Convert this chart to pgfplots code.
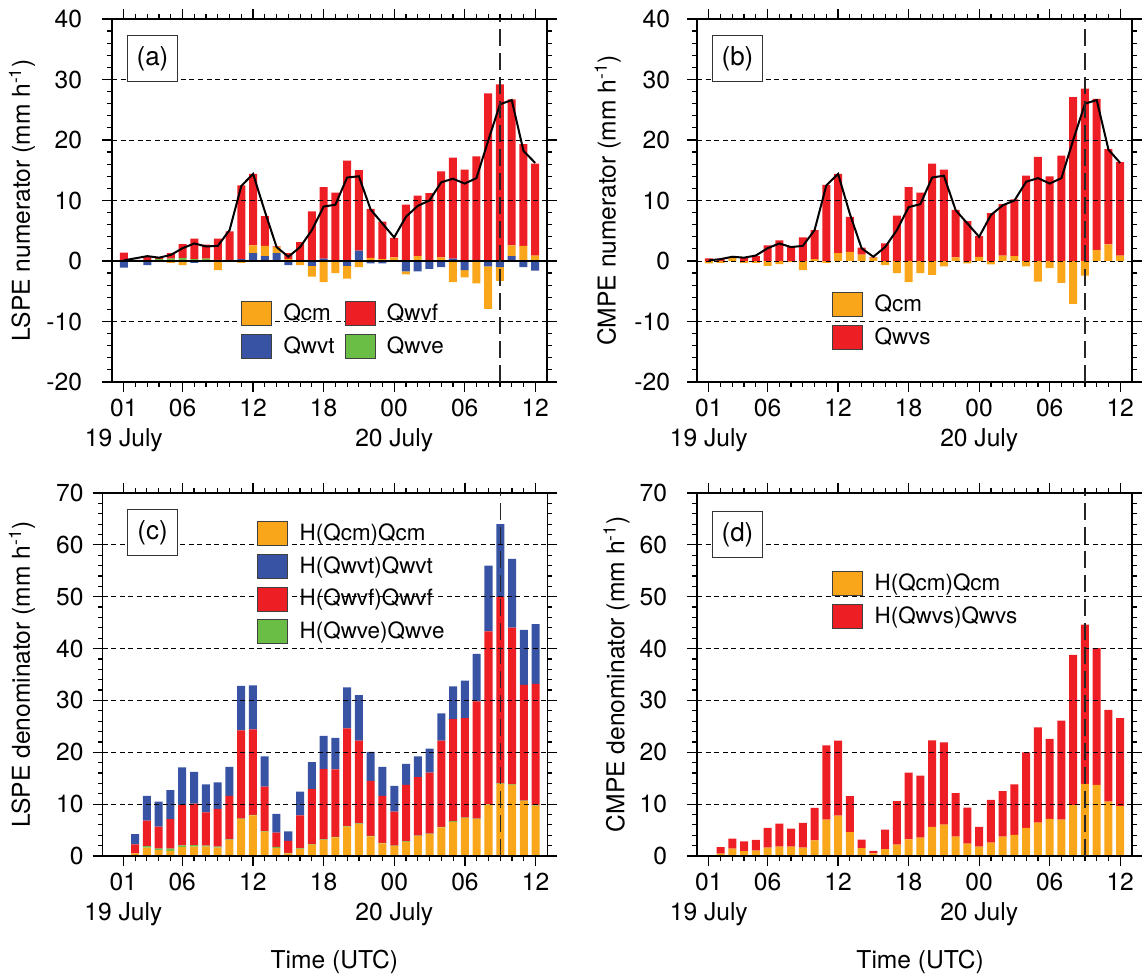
\documentclass[border=0pt]{standalone}
\usepackage{fontspec}
\setmainfont{TeX Gyre Heros}
\usepackage{pgfplots}
\usepackage{pgfplotstable}
\pgfplotsset{compat=1.18}

\definecolor{qorange}{RGB}{250,166,26}
\definecolor{qred}{RGB}{237,30,36}
\definecolor{qblue}{RGB}{57,83,164}
\definecolor{qgreen}{RGB}{106,189,69}

\newcommand{\mainfs}{\fontsize{12.3}{15}\selectfont}
\newcommand{\legfs}{\fontsize{11.2}{13}\selectfont}
\newcommand{\labfs}{\fontsize{13}{15}\selectfont}

% LSPE numerator: positive and negative parts kept apart
\pgfplotstableread{
h veP vtP cmP vfP vtN cmN tot
1 0 0 0 1.4 -1.1 0 0.1
2 0 0 0 0.2 0 0 0.45
3 0.1 0 0 0.7 -0.7 0 0.8
4 0.3 0 0 0.3 0 0 0.55
5 0.4 0 0 0.9 0 -0.3 1.0
6 0.5 0 0 2.3 0 -0.7 2.1
7 0.3 0 0 3.4 -0.3 0 2.9
8 0.4 0 0 2.3 0 0 2.4
9 0.2 0 0 3.5 0 -1.5 2.5
10 0.2 0 0 4.7 0 0 5.1
11 0 0.3 0 12.2 0 -0.3 12.4
12 0 1.3 1.3 11.8 0 0 14.4
13 0 0.8 1.7 4.9 0 0 8.2
14 0 1.3 1.0 0.1 0 0 2.3
15 0 0 0.3 1.0 -0.7 0 0.7
16 0 0 0 3.1 0 -0.7 2.3
17 0 0 0 8.2 -0.8 -1.8 5.1
18 0 0.4 0 11.8 0 -3.5 9.0
19 0 0 0 11.3 0 -2.0 9.3
20 0 0 0 16.6 -0.8 -2.1 13.8
21 0 1.7 0 13.3 0 -1.0 14.0
22 0 0 0.5 8.1 -0.4 0 8.5
23 0 0 0.3 6.2 -0.4 0 6.2
24 0 0 0.6 3.2 0 0 3.9
25 0 0 0 9.3 -1.7 -0.5 7.3
26 0 0 0.8 10.0 -1.7 0 9.1
27 0 0 0 11.2 -1.3 0 10.0
28 0 0 0.6 14.2 -1.0 0 13.0
29 0 0.4 0 16.7 0 -3.5 13.6
30 0 0 0 15.1 -1.5 -1.2 12.8
31 0 0 0 17.3 0 -3.7 13.7
32 0 0 0 27.7 -0.9 -7.0 19.9
33 0 0 0 29.2 -1.0 -2.3 25.9
34 0 0.8 1.8 24.1 0 0 26.6
35 0 0 2.5 16.8 -1.0 0 18.2
36 0 0 0.9 15.2 -1.6 0 16.2
}\tabA

% CMPE numerator
\pgfplotstableread{
h cmP vsP cmN tot
1 0 0.45 -0.4 0.1
2 0 0.4 -0.3 0.3
3 0.5 0.2 0 0.7
4 0 0.6 -0.3 0.55
5 0 0.8 -0.3 0.9
6 0 2.6 -0.8 2.1
7 0 3.4 -0.5 2.9
8 0 2.3 -0.2 2.3
9 0 3.9 -1.5 2.5
10 0.3 4.8 0 5.1
11 0 12.6 -0.3 12.5
12 1.3 13.1 0 14.4
13 1.5 5.8 0 7.8
14 1.05 1.15 0 2.1
15 0.55 0.1 0 0.7
16 0 2.9 -0.7 2.3
17 0 7.5 -2.0 5.1
18 0 12.2 -3.5 8.9
19 0 11.3 -2.0 9.4
20 0 16.1 -2.3 13.8
21 0 15.1 -0.9 14.1
22 0.6 7.85 0 8.4
23 0 6.6 -0.4 6.2
24 0.7 3.4 0 4.0
25 0 7.9 -0.55 7.6
26 0.9 8.5 0 9.2
27 0.8 9.4 0 10.0
28 0 14.1 -0.9 13.1
29 0 17.2 -3.4 13.7
30 0 14.0 -1.2 12.8
31 0 17.4 -3.6 13.7
32 0 27.1 -7.1 20.0
33 0 28.5 -2.4 26.0
34 1.8 25.0 0 26.6
35 2.75 15.75 0 18.4
36 0.9 15.45 0 16.2
}\tabB

% LSPE denominator
\pgfplotstableread{
h cm ve vf vt
1 0 0 0 0
2 0.5 0 1.75 1.95
3 1.6 0.3 4.9 4.8
4 1.15 0.25 4.25 4.85
5 1.0 0.4 5.7 5.6
6 1.7 0.35 7.8 7.25
7 1.8 0.3 8.0 6.1
8 1.8 0.2 6.4 5.4
9 1.6 0.2 7.3 5.1
10 3.1 0.1 8.4 5.6
11 7.1 0.1 17.0 8.6
12 7.85 0.1 16.45 8.5
13 4.7 0.1 8.6 5.8
14 1.55 0.2 2.75 3.6
15 0.5 0.1 2.3 1.85
16 1.35 0.1 6.4 4.55
17 2.2 0.1 10.6 5.2
18 3.1 0.1 13.55 6.4
19 3.6 0.1 13.0 6.1
20 5.65 0.1 18.85 7.9
21 6.2 0.1 15.95 8.75
22 3.8 0.1 10.6 5.6
23 2.45 0.1 9.05 5.6
24 1.9 0.1 6.55 4.95
25 2.7 0.1 10.9 4.05
26 3.85 0.1 11.25 4.0
27 4.2 0.1 11.8 4.6
28 5.5 0.1 16.65 5.25
29 6.6 0.1 19.7 6.3
30 7.3 0.1 19.2 7.2
31 7.1 0.1 22.6 9.2
32 9.9 0.1 33.3 12.7
33 13.9 0.1 35.9 14.1
34 13.7 0.1 30.25 13.25
35 10.6 0.1 22.3 10.6
36 9.7 0.1 23.4 11.5
}\tabC

% CMPE denominator
\pgfplotstableread{
h cm vs
1 0 0
2 0.45 1.25
3 1.4 1.95
4 0.95 1.85
5 1.05 2.05
6 1.6 3.8
7 1.8 4.45
8 1.8 3.5
9 1.6 4.8
10 3.0 6.3
11 7.0 14.35
12 7.8 14.45
13 4.6 6.95
14 1.5 1.65
15 0.5 0.5
16 1.3 3.8
17 2.2 8.4
18 3.2 12.9
19 3.55 11.95
20 5.6 16.7
21 6.05 15.85
22 3.75 8.35
23 2.4 6.95
24 1.8 3.8
25 2.6 8.2
26 3.75 8.75
27 4.05 9.75
28 5.4 14.6
29 6.45 18.35
30 7.15 15.45
31 7.0 19.1
32 9.8 29.0
33 13.9 30.7
34 13.7 26.4
35 10.5 17.7
36 9.6 17.0
}\tabD

\pgfplotsset{
  geo/.style={scale only axis, width=217.5pt, height=181.5pt,
    anchor=south west, xmin=0, xmax=37},
  frame/.style={
    tick align=outside,
    xtick={1,6,12,18,24,30,36},
    xticklabels={{01\\19 July},06,12,18,{00\\20 July},06,12},
    minor xtick={1,...,36},
    xticklabel style={align=center, font=\mainfs},
    yticklabel style={font=\mainfs},
    /pgf/number format/assume math mode=true,
    label style={font=\mainfs},
    major tick length=5pt, minor tick length=2.5pt,
    every tick/.style={black, line width=0.6pt},
    axis line style={line width=0.7pt},
    ymajorgrids,
    grid style={black, line width=0.45pt, dash pattern=on 2.5pt off 1.8pt},
    axis on top,
    minor y tick num=4,
  },
  bars/.style={ybar stacked, bar width=0.68},
  boxleg/.style={legend image code/.code={\draw[##1, line width=0.5pt] (0pt,-6pt) rectangle (15pt,6pt);}},
  legbase/.style={legend cell align=left,
    legend style={anchor=north west, draw=none, fill=none, inner sep=0pt,
      font=\legfs, row sep=3.8pt, nodes={inner sep=0.5pt},
      /tikz/every odd column/.append style={column sep=5.2pt}}},
  vline/.style={black!85, line width=0.6pt, dash pattern=on 8.5pt off 3.5pt, mark=none, forget plot},
  tline/.style={black, line width=1pt, mark=none, forget plot},
}
\tikzset{
  plab/.style={draw=black!80, line width=0.5pt, fill=white, minimum width=25pt,
    minimum height=23pt, anchor=north west, inner sep=0pt, font=\labfs},
}

\begin{document}
\begin{tikzpicture}
\useasboundingbox (0,0) rectangle (571pt,489pt);

% ---------- (a) ----------
\begin{axis}[geo, at={(56pt,298pt)}, hide axis, ymin=-20, ymax=40, bars]
  \addplot[fill=qblue, draw=none] table[x=h, y=vtN] {\tabA};
  \addplot[fill=qorange, draw=none] table[x=h, y=cmN] {\tabA};
\end{axis}
\begin{axis}[geo, frame, at={(56pt,298pt)}, ymin=-20, ymax=40, ytick={-20,-10,...,40},
  yticklabel style={xshift=-6.5pt},
  ylabel={LSPE numerator (mm h\textsuperscript{-1})},
  ylabel style={at={(axis description cs:-0.207,0.5)}, anchor=center},
  extra y ticks={0}, extra y tick labels={},
  extra y tick style={grid=major, grid style={solid, black, line width=0.8pt}, major tick length=0pt},
  bars]
  \addplot[fill=qgreen, draw=none] table[x=h, y=veP] {\tabA};
  \addplot[fill=qblue, draw=none] table[x=h, y=vtP] {\tabA};
  \addplot[fill=qorange, draw=none] table[x=h, y=cmP] {\tabA};
  \addplot[fill=qred, draw=none] table[x=h, y=vfP] {\tabA};
\end{axis}
\begin{axis}[geo, at={(56pt,298pt)}, hide axis, ymin=-20, ymax=40, legbase,
  legend columns=2,
  legend style={at={(axis description cs:0.296,0.223)},
    /tikz/every even column/.append style={column sep=4.5pt}}]
  \addplot[tline] table[x=h, y=tot] {\tabA};
  \addplot[vline] coordinates {(33,-20) (33,40)};
  \addlegendimage{boxleg, fill=qorange, draw=black!75}
  \addlegendentry{Qcm}
  \addlegendimage{boxleg, fill=qred, draw=black!75}
  \addlegendentry{Qwvf}
  \addlegendimage{boxleg, fill=qblue, draw=black!75}
  \addlegendentry{Qwvt}
  \addlegendimage{boxleg, fill=qgreen, draw=black!75}
  \addlegendentry{Qwve}
  \node[plab] at (rel axis cs:0.0345,0.956) {(a)};
\end{axis}

% ---------- (b) ----------
\begin{axis}[geo, at={(348.5pt,298pt)}, hide axis, ymin=-20, ymax=40, bars]
  \addplot[fill=qorange, draw=none] table[x=h, y=cmN] {\tabB};
\end{axis}
\begin{axis}[geo, frame, at={(348.5pt,298pt)}, ymin=-20, ymax=40, ytick={-20,-10,...,40},
  yticklabel style={xshift=-5pt},
  ylabel={CMPE numerator (mm h\textsuperscript{-1})},
  ylabel style={at={(axis description cs:-0.205,0.5)}, anchor=center},
  bars]
  \addplot[fill=qorange, draw=none] table[x=h, y=cmP] {\tabB};
  \addplot[fill=qred, draw=none] table[x=h, y=vsP] {\tabB};
\end{axis}
\begin{axis}[geo, at={(348.5pt,298pt)}, hide axis, ymin=-20, ymax=40, legbase,
  legend style={at={(axis description cs:0.31,0.248)}}]
  \addplot[tline] table[x=h, y=tot] {\tabB};
  \addplot[vline] coordinates {(33,-20) (33,40)};
  \addlegendimage{boxleg, fill=qorange, draw=black!75}
  \addlegendentry{Qcm}
  \addlegendimage{boxleg, fill=qred, draw=black!75}
  \addlegendentry{Qwvs}
  \node[plab] at (rel axis cs:0.0345,0.956) {(b)};
\end{axis}

% ---------- (c) ----------
\begin{axis}[geo, frame, at={(51.3pt,61pt)}, width=222.4pt, xmin=-0.76, xmax=37,
  ymin=0, ymax=70, ytick={0,10,...,70},
  yticklabel style={xshift=-1pt},
  ylabel={LSPE denominator (mm h\textsuperscript{-1})},
  ylabel style={at={(axis description cs:-0.181,0.5)}, anchor=center},
  xlabel={Time (UTC)},
  xlabel style={at={(axis description cs:0.521,-0.292)}, anchor=center},
  bars]
  \addplot[fill=qorange, draw=none] table[x=h, y=cm] {\tabC};
  \addplot[fill=qgreen, draw=none] table[x=h, y=ve] {\tabC};
  \addplot[fill=qred, draw=none] table[x=h, y=vf] {\tabC};
  \addplot[fill=qblue, draw=none] table[x=h, y=vt] {\tabC};
\end{axis}
\begin{axis}[geo, at={(51.3pt,61pt)}, width=222.4pt, xmin=-0.76, xmax=37,
  hide axis, ymin=0, ymax=70, legbase,
  legend style={at={(axis description cs:0.347,0.923)}}]
  \addplot[vline] coordinates {(33,0) (33,70)};
  \addlegendimage{boxleg, fill=qorange, draw=black!75}
  \addlegendentry{H(Qcm)Qcm}
  \addlegendimage{boxleg, fill=qblue, draw=black!75}
  \addlegendentry{H(Qwvt)Qwvt}
  \addlegendimage{boxleg, fill=qred, draw=black!75}
  \addlegendentry{H(Qwvf)Qwvf}
  \addlegendimage{boxleg, fill=qgreen, draw=black!75}
  \addlegendentry{H(Qwve)Qwve}
  \node[plab] at (rel axis cs:0.055,0.956) {(c)};
\end{axis}

% ---------- (d) ----------
\begin{axis}[geo, frame, at={(348.5pt,61pt)}, ymin=0, ymax=70, ytick={0,10,...,70},
  yticklabel style={xshift=-6.5pt},
  ylabel={CMPE denominator (mm h\textsuperscript{-1})},
  ylabel style={at={(axis description cs:-0.185,0.5)}, anchor=center},
  xlabel={Time (UTC)},
  xlabel style={at={(axis description cs:0.513,-0.292)}, anchor=center},
  bars]
  \addplot[fill=qorange, draw=none] table[x=h, y=cm] {\tabD};
  \addplot[fill=qred, draw=none] table[x=h, y=vs] {\tabD};
\end{axis}
\begin{axis}[geo, at={(348.5pt,61pt)}, hide axis, ymin=0, ymax=70, legbase,
  legend style={at={(axis description cs:0.31,0.785)}}]
  \addplot[vline] coordinates {(33,0) (33,70)};
  \addlegendimage{boxleg, fill=qorange, draw=black!75}
  \addlegendentry{H(Qcm)Qcm}
  \addlegendimage{boxleg, fill=qred, draw=black!75}
  \addlegendentry{H(Qwvs)Qwvs}
  \node[plab] at (rel axis cs:0.0345,0.950) {(d)};
\end{axis}
\end{tikzpicture}
\end{document}
